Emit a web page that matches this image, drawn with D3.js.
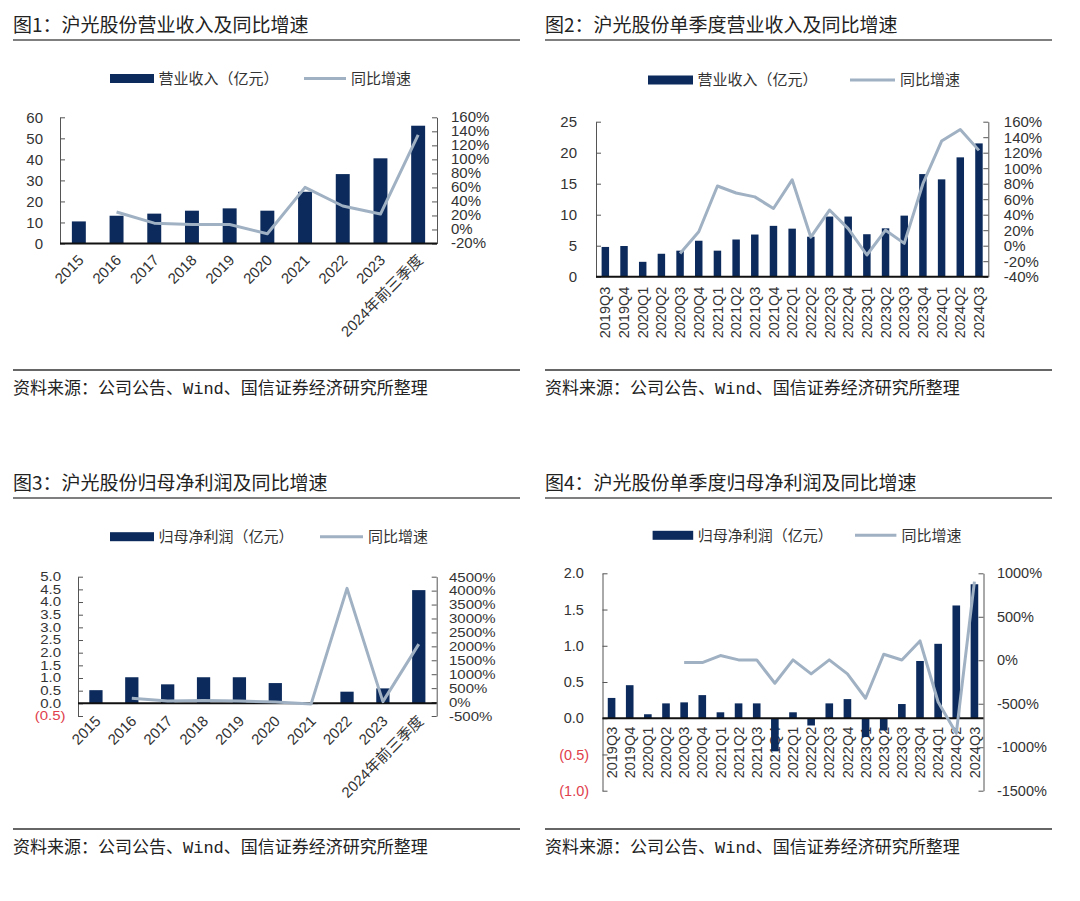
<!DOCTYPE html>
<html>
<head>
<meta charset="utf-8">
<script src="https://cdn.jsdelivr.net/npm/d3@7"></script>
<style>
  body { margin: 0; background: #fff; }
  svg { display: block; }
</style>
</head>
<body>
<div id="chart"></div>
<script>
// ---- data ----
const years = ["2015", "2016", "2017", "2018", "2019", "2020", "2021", "2022", "2023", "2024年前三季度"]
const revenue = [10.5, 13.2, 14.2, 15.6, 16.7, 15.6, 24.6, 33.0, 40.5, 56.0]
const revenueYoy = [null, 25, 9, 7, 7, -6, 60, 33.5, 22, 135]

const quarters = ["2019Q3", "2019Q4", "2020Q1", "2020Q2", "2020Q3", "2020Q4", "2021Q1", "2021Q2", "2021Q3", "2021Q4",
  "2022Q1", "2022Q2", "2022Q3", "2022Q4", "2023Q1", "2023Q2", "2023Q3", "2023Q4", "2024Q1", "2024Q2", "2024Q3"]
const qRevenue = [4.8, 4.95, 2.4, 3.7, 4.2, 5.8, 4.2, 6.0, 6.8, 8.2, 7.75, 6.45, 9.7, 9.7, 6.85, 7.8, 9.85, 16.55, 15.7, 19.25, 21.5]
const qRevenueYoy = [null, null, null, null, -10, 18, 77, 68, 63, 48, 85, 11, 46, 22, -12, 20, 3, 80, 135, 150, 123]

const netProfit = [0.52, 1.03, 0.75, 1.03, 1.03, 0.8, -0.03, 0.46, 0.59, 4.47]
const netProfitYoy = [null, 140, 40, 60, 40, 0, -65, 4080, 15, 2080]

const qNetProfit = [0.28, 0.456, 0.055, 0.205, 0.219, 0.319, 0.082, 0.205, 0.205, -0.457, 0.082, -0.1, 0.205, 0.264,
  -0.26, -0.169, 0.196, 0.79, 1.027, 1.556, 1.849]
const qNetProfitYoy = [null, null, null, null, -27, -27, 54, 4, 4, -264, 4, -157, 4, -157, -437, 69, 3, 222, -480, -840, 904]

// tick labels
const ticksRev = [0, 10, 20, 30, 40, 50, 60]
const ticksRevYoy = [-20, 0, 20, 40, 60, 80, 100, 120, 140, 160]
const ticksQRev = [0, 5, 10, 15, 20, 25]
const ticksQRevYoy = [-40, -20, 0, 20, 40, 60, 80, 100, 120, 140, 160]
const ticksNet = [-0.5, 0, 0.5, 1.0, 1.5, 2.0, 2.5, 3.0, 3.5, 4.0, 4.5, 5.0]
const ticksNetYoy = [-500, 0, 500, 1000, 1500, 2000, 2500, 3000, 3500, 4000, 4500]
const ticksQNet = [-1.0, -0.5, 0, 0.5, 1.0, 1.5, 2.0]
const ticksQNetYoy = [-1500, -1000, -500, 0, 500, 1000]

const source = "资料来源：公司公告、"
const source2 = "、国信证券经济研究所整理"

const barColor = "#0c2b5c"
const lineColor = "#a0b1c3"
const textColor = "#333"
const cjk = "'Noto Sans CJK SC', sans-serif"
const num = "'Liberation Sans', Arial, 'Noto Sans CJK SC', sans-serif"

const svg = d3.select("#chart").append("svg").attr("width", 1080).attr("height", 901)

const fmtInt = d => d
const fmtDec = d => d < 0 ? `(${Math.abs(d).toFixed(1)})` : d.toFixed(1)
const fmtPct = d => d + "%"

function panel(o){
  const g = svg.append("g")

  // title + rules
  g.append("text").attr("x", o.x0).attr("y", o.titleY).attr("dy", "0.35em")
    .attr("font-family", cjk).attr("font-size", 19).attr("fill", "#222").text(o.title)
  g.append("line").attr("x1", o.x0).attr("x2", o.x0 + 507).attr("y1", o.titleY + 15).attr("y2", o.titleY + 15)
    .attr("stroke", "#555").attr("stroke-width", 1.5)
  g.append("line").attr("x1", o.x0).attr("x2", o.x0 + 507).attr("y1", o.srcY - 18).attr("y2", o.srcY - 18)
    .attr("stroke", "#666").attr("stroke-width", 1.8)
  const src = g.append("text").attr("x", o.x0).attr("y", o.srcY).attr("dy", "0.35em")
    .attr("font-family", cjk).attr("font-size", 17).attr("fill", "#222")
  src.append("tspan").text(source)
  src.append("tspan").attr("font-family", "'Liberation Mono', monospace").text("Wind")
  src.append("tspan").text(source2)

  // legend
  const L = o.legend
  g.append("rect").attr("x", L.bar[0]).attr("y", L.y - 4.5).attr("width", L.bar[1] - L.bar[0]).attr("height", 9).attr("fill", barColor)
  g.append("text").attr("x", L.bar[1] + 4.5).attr("y", L.y).attr("dy", "0.35em").attr("font-family", cjk)
    .attr("font-size", 15).attr("fill", textColor).text(o.barName)
  g.append("line").attr("x1", L.line[0]).attr("x2", L.line[1]).attr("y1", L.y).attr("y2", L.y)
    .attr("stroke", lineColor).attr("stroke-width", 3)
  g.append("text").attr("x", L.line[1] + 5).attr("y", L.y).attr("dy", "0.35em").attr("font-family", cjk)
    .attr("font-size", 15).attr("fill", textColor).text("同比增速")

  // scales
  const x = d3.scaleBand().domain(o.cats).range([o.left, o.right]).paddingInner(o.pad).paddingOuter(o.pad / 2)
  const yL = d3.scaleLinear().domain(o.lDomain).range([o.bottom, o.top])
  const yR = d3.scaleLinear().domain(o.rDomain).range([o.bottom, o.top])
  const cx = c => x(c) + x.bandwidth() / 2
  const y0 = yL(0)

  // axes
  const ax = g.append("g").attr("transform", `translate(${o.left},0)`)
    .call(d3.axisLeft(yL).tickValues(o.lTicks).tickFormat(o.lFmt).tickSizeInner(-5).tickSizeOuter(0).tickPadding(o.lPad))
  ax.selectAll("text").attr("font-family", num).attr("font-size", o.tickFont)
    .attr("fill", d => d < 0 ? "#e0404c" : textColor)
    .attr("dx", d => d < 0 ? 0 : -o.lShift)
    .attr("transform", o.squeeze ? `scale(1,${o.squeeze})` : null)
  const axR = g.append("g").attr("transform", `translate(${o.right},0)`)
    .call(d3.axisRight(yR).tickValues(o.rTicks).tickFormat(fmtPct).tickSizeInner(-5).tickSizeOuter(0).tickPadding(o.rPad))
  axR.selectAll("text").attr("font-family", num).attr("font-size", o.tickFont).attr("fill", textColor)
    .attr("transform", o.squeezeR ? `scale(1,${o.squeezeR})` : null)
  g.selectAll(".domain, .tick line").attr("stroke", "#555")

  // category labels
  g.append("g").selectAll("text").data(o.cats).enter().append("text")
    .attr("transform", d => o.vertical
      ? `translate(${cx(d)},${y0 + o.labelGap}) rotate(-90)`
      : `translate(${cx(d) + 2},${y0 + o.labelGap}) rotate(-45)`)
    .attr("text-anchor", "end").attr("dy", "0.35em")
    .attr("font-family", num).attr("font-size", o.catFont).attr("fill", textColor)
    .text(d => d)

  // bars
  g.append("g").selectAll("rect").data(o.bars).enter().append("rect")
    .attr("x", (d, i) => x(o.cats[i]))
    .attr("width", x.bandwidth())
    .attr("y", d => Math.min(yL(d), y0))
    .attr("height", d => Math.abs(yL(d) - y0))
    .attr("fill", barColor)

  // zero line
  g.append("line").attr("x1", o.left).attr("x2", o.right).attr("y1", y0).attr("y2", y0)
    .attr("stroke", "#111").attr("stroke-width", 2)

  // growth line
  const line = d3.line().defined(d => d != null).x((d, i) => cx(o.cats[i])).y(d => yR(d))
  g.append("path").datum(o.yoy).attr("d", line).attr("fill", "none")
    .attr("stroke", lineColor).attr("stroke-width", 3).attr("stroke-linejoin", "round")
}

panel({
  x0: 13, titleY: 25, srcY: 388, title: "图1：沪光股份营业收入及同比增速",
  barName: "营业收入（亿元）",
  legend: { y: 78.5, bar: [110, 154], line: [304, 346] },
  cats: years, bars: revenue, yoy: revenueYoy,
  left: 60, right: 437, top: 117.3, bottom: 243.5, pad: 0.63,
  lDomain: [0, 60], lTicks: ticksRev, lFmt: fmtInt, lPad: 17, lShift: 0,
  rDomain: [-20, 160], rTicks: ticksRevYoy, rPad: 14,
  tickFont: 15, catFont: 15, vertical: false, labelGap: 14, squeezeR: 0.92
})

panel({
  x0: 545, titleY: 25, srcY: 388, title: "图2：沪光股份单季度营业收入及同比增速",
  barName: "营业收入（亿元）",
  legend: { y: 80, bar: [648, 693], line: [850, 895] },
  cats: quarters, bars: qRevenue, yoy: qRevenueYoy,
  left: 596, right: 988.3, top: 121.7, bottom: 276.7, pad: 0.6,
  lDomain: [0, 25], lTicks: ticksQRev, lFmt: fmtInt, lPad: 19, lShift: 0,
  rDomain: [-40, 160], rTicks: ticksQRevYoy, rPad: 15.5,
  tickFont: 15, catFont: 14.5, vertical: true, labelGap: 10
})

panel({
  x0: 13, titleY: 483, srcY: 847, title: "图3：沪光股份归母净利润及同比增速",
  barName: "归母净利润（亿元）",
  legend: { y: 536.7, bar: [110, 154], line: [320, 363] },
  cats: years, bars: netProfit, yoy: netProfitYoy,
  left: 78, right: 436.7, top: 576.7, bottom: 716, pad: 0.63,
  lDomain: [-0.5, 5.0], lTicks: ticksNet, lFmt: fmtDec, lPad: 12.5, lShift: 4.5,
  rDomain: [-500, 4500], rTicks: ticksNetYoy, rPad: 12.3,
  tickFont: 15, catFont: 15, vertical: false, labelGap: 15, squeeze: 0.8, squeezeR: 0.9
})

panel({
  x0: 545, titleY: 483, srcY: 847, title: "图4：沪光股份单季度归母净利润及同比增速",
  barName: "归母净利润（亿元）",
  legend: { y: 535.3, bar: [652.6, 693.2], line: [855, 896.4] },
  cats: quarters, bars: qNetProfit, yoy: qNetProfitYoy,
  left: 602.5, right: 983.5, top: 573.3, bottom: 790.7, pad: 0.58,
  lDomain: [-1.0, 2.0], lTicks: ticksQNet, lFmt: fmtDec, lPad: 13.4, lShift: 5.3,
  rDomain: [-1500, 1000], rTicks: ticksQNetYoy, rPad: 13.4,
  tickFont: 14.5, catFont: 14.5, vertical: true, labelGap: 8.5
})
</script>
</body>
</html>
